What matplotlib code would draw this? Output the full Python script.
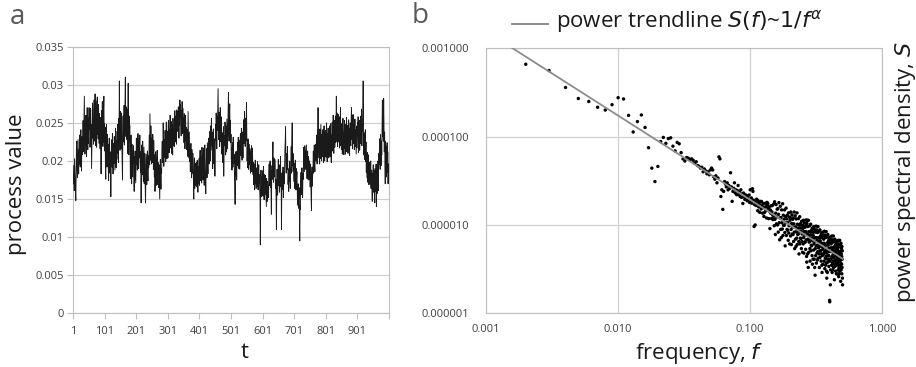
import numpy as np
import matplotlib
matplotlib.use('Agg')
import matplotlib.pyplot as plt
from matplotlib.lines import Line2D

plt.rcParams['font.family'] = ['Open Sans', 'DejaVu Sans']

# ---------------- panel a: process values, t = 1..1000 ----------------
process_value = [
    0.0194, 0.0170, 0.0182, 0.0161, 0.0203, 0.0187, 0.0175, 0.0159, 0.0148, 0.0186,
    0.0219, 0.0226, 0.0190, 0.0178, 0.0204, 0.0228, 0.0201, 0.0183, 0.0215, 0.0196,
    0.0234, 0.0210, 0.0192, 0.0226, 0.0241, 0.0203, 0.0187, 0.0219, 0.0232, 0.0208,
    0.0225, 0.0253, 0.0212, 0.0239, 0.0264, 0.0285, 0.0230, 0.0209, 0.0248, 0.0226,
    0.0260, 0.0221, 0.0206, 0.0244, 0.0270, 0.0232, 0.0215, 0.0257, 0.0223, 0.0249,
    0.0270, 0.0242, 0.0263, 0.0218, 0.0236, 0.0269, 0.0224, 0.0248, 0.0190, 0.0217,
    0.0245, 0.0276, 0.0230, 0.0258, 0.0222, 0.0264, 0.0280, 0.0241, 0.0226, 0.0288,
    0.0253, 0.0220, 0.0279, 0.0246, 0.0218, 0.0261, 0.0284, 0.0235, 0.0266, 0.0229,
    0.0274, 0.0250, 0.0223, 0.0262, 0.0238, 0.0216, 0.0257, 0.0230, 0.0183, 0.0224,
    0.0266, 0.0231, 0.0278, 0.0240, 0.0219, 0.0255, 0.0270, 0.0285, 0.0224, 0.0249,
    0.0213, 0.0244, 0.0189, 0.0176, 0.0227, 0.0248, 0.0206, 0.0192, 0.0235, 0.0210,
    0.0222, 0.0190, 0.0174, 0.0216, 0.0230, 0.0201, 0.0184, 0.0212, 0.0195, 0.0153,
    0.0186, 0.0228, 0.0210, 0.0192, 0.0236, 0.0204, 0.0183, 0.0223, 0.0209, 0.0197,
    0.0232, 0.0206, 0.0188, 0.0220, 0.0243, 0.0209, 0.0191, 0.0227, 0.0202, 0.0239,
    0.0210, 0.0248, 0.0223, 0.0198, 0.0256, 0.0234, 0.0305, 0.0242, 0.0214, 0.0265,
    0.0252, 0.0216, 0.0239, 0.0263, 0.0220, 0.0197, 0.0175, 0.0233, 0.0259, 0.0225,
    0.0240, 0.0273, 0.0221, 0.0255, 0.0280, 0.0310, 0.0258, 0.0232, 0.0271, 0.0244,
    0.0228, 0.0268, 0.0210, 0.0253, 0.0302, 0.0241, 0.0208, 0.0259, 0.0226, 0.0247,
    0.0219, 0.0177, 0.0208, 0.0234, 0.0186, 0.0170, 0.0222, 0.0200, 0.0179, 0.0213,
    0.0197, 0.0220, 0.0181, 0.0160, 0.0206, 0.0175, 0.0213, 0.0192, 0.0171, 0.0202,
    0.0230, 0.0195, 0.0224, 0.0188, 0.0218, 0.0236, 0.0201, 0.0190, 0.0229, 0.0204,
    0.0217, 0.0234, 0.0198, 0.0185, 0.0212, 0.0145, 0.0193, 0.0221, 0.0200, 0.0182,
    0.0226, 0.0201, 0.0173, 0.0194, 0.0218, 0.0170, 0.0188, 0.0210, 0.0166, 0.0145,
    0.0178, 0.0209, 0.0190, 0.0169, 0.0202, 0.0213, 0.0180, 0.0174, 0.0207, 0.0191,
    0.0210, 0.0234, 0.0195, 0.0262, 0.0225, 0.0201, 0.0246, 0.0218, 0.0196, 0.0230,
    0.0224, 0.0198, 0.0235, 0.0210, 0.0189, 0.0227, 0.0203, 0.0179, 0.0208, 0.0160,
    0.0181, 0.0212, 0.0194, 0.0168, 0.0179, 0.0205, 0.0214, 0.0182, 0.0169, 0.0198,
    0.0186, 0.0165, 0.0195, 0.0172, 0.0150, 0.0180, 0.0202, 0.0178, 0.0163, 0.0190,
    0.0184, 0.0213, 0.0226, 0.0198, 0.0207, 0.0250, 0.0217, 0.0193, 0.0228, 0.0205,
    0.0212, 0.0240, 0.0221, 0.0199, 0.0236, 0.0251, 0.0214, 0.0203, 0.0239, 0.0222,
    0.0204, 0.0246, 0.0253, 0.0220, 0.0211, 0.0241, 0.0230, 0.0260, 0.0217, 0.0239,
    0.0252, 0.0226, 0.0210, 0.0247, 0.0232, 0.0208, 0.0256, 0.0240, 0.0220, 0.0237,
    0.0219, 0.0254, 0.0266, 0.0231, 0.0225, 0.0259, 0.0243, 0.0222, 0.0267, 0.0248,
    0.0239, 0.0265, 0.0242, 0.0271, 0.0253, 0.0230, 0.0264, 0.0247, 0.0280, 0.0258,
    0.0274, 0.0245, 0.0233, 0.0266, 0.0249, 0.0278, 0.0236, 0.0255, 0.0269, 0.0238,
    0.0257, 0.0224, 0.0262, 0.0248, 0.0216, 0.0239, 0.0260, 0.0227, 0.0244, 0.0215,
    0.0242, 0.0218, 0.0229, 0.0206, 0.0265, 0.0234, 0.0204, 0.0220, 0.0238, 0.0199,
    0.0216, 0.0186, 0.0209, 0.0223, 0.0190, 0.0178, 0.0215, 0.0202, 0.0184, 0.0210,
    0.0185, 0.0173, 0.0150, 0.0189, 0.0204, 0.0164, 0.0178, 0.0197, 0.0168, 0.0182,
    0.0198, 0.0166, 0.0174, 0.0201, 0.0180, 0.0159, 0.0193, 0.0170, 0.0203, 0.0184,
    0.0168, 0.0199, 0.0214, 0.0182, 0.0174, 0.0206, 0.0190, 0.0171, 0.0218, 0.0196,
    0.0208, 0.0175, 0.0189, 0.0217, 0.0193, 0.0168, 0.0204, 0.0221, 0.0186, 0.0179,
    0.0157, 0.0189, 0.0216, 0.0200, 0.0178, 0.0224, 0.0206, 0.0183, 0.0219, 0.0230,
    0.0213, 0.0196, 0.0239, 0.0222, 0.0200, 0.0246, 0.0214, 0.0233, 0.0256, 0.0220,
    0.0238, 0.0202, 0.0190, 0.0227, 0.0242, 0.0208, 0.0196, 0.0229, 0.0212, 0.0180,
    0.0214, 0.0248, 0.0227, 0.0263, 0.0235, 0.0216, 0.0259, 0.0240, 0.0268, 0.0295,
    0.0255, 0.0228, 0.0264, 0.0236, 0.0219, 0.0251, 0.0270, 0.0232, 0.0225, 0.0258,
    0.0243, 0.0209, 0.0237, 0.0214, 0.0198, 0.0229, 0.0245, 0.0180, 0.0216, 0.0233,
    0.0220, 0.0251, 0.0234, 0.0208, 0.0246, 0.0223, 0.0212, 0.0255, 0.0238, 0.0216,
    0.0247, 0.0269, 0.0290, 0.0241, 0.0226, 0.0262, 0.0275, 0.0237, 0.0253, 0.0224,
    0.0235, 0.0202, 0.0217, 0.0188, 0.0224, 0.0206, 0.0192, 0.0231, 0.0210, 0.0197,
    0.0209, 0.0181, 0.0172, 0.0143, 0.0195, 0.0212, 0.0180, 0.0206, 0.0175, 0.0213,
    0.0200, 0.0224, 0.0194, 0.0231, 0.0213, 0.0190, 0.0227, 0.0205, 0.0189, 0.0229,
    0.0236, 0.0207, 0.0220, 0.0243, 0.0214, 0.0201, 0.0238, 0.0226, 0.0204, 0.0240,
    0.0254, 0.0223, 0.0249, 0.0265, 0.0230, 0.0219, 0.0256, 0.0240, 0.0227, 0.0277,
    0.0235, 0.0200, 0.0218, 0.0191, 0.0229, 0.0204, 0.0189, 0.0222, 0.0208, 0.0195,
    0.0216, 0.0190, 0.0184, 0.0212, 0.0201, 0.0220, 0.0186, 0.0198, 0.0217, 0.0193,
    0.0182, 0.0198, 0.0169, 0.0176, 0.0196, 0.0162, 0.0185, 0.0201, 0.0170, 0.0187,
    0.0164, 0.0191, 0.0180, 0.0167, 0.0199, 0.0175, 0.0162, 0.0186, 0.0195, 0.0171,
    0.0182, 0.0160, 0.0149, 0.0090, 0.0157, 0.0188, 0.0165, 0.0153, 0.0179, 0.0162,
    0.0187, 0.0154, 0.0169, 0.0193, 0.0160, 0.0149, 0.0182, 0.0170, 0.0156, 0.0181,
    0.0166, 0.0150, 0.0140, 0.0177, 0.0161, 0.0147, 0.0173, 0.0155, 0.0168, 0.0152,
    0.0184, 0.0196, 0.0168, 0.0179, 0.0200, 0.0165, 0.0187, 0.0158, 0.0130, 0.0176,
    0.0194, 0.0176, 0.0208, 0.0225, 0.0189, 0.0172, 0.0204, 0.0190, 0.0179, 0.0202,
    0.0188, 0.0164, 0.0176, 0.0149, 0.0110, 0.0158, 0.0189, 0.0169, 0.0155, 0.0181,
    0.0202, 0.0168, 0.0190, 0.0173, 0.0159, 0.0195, 0.0180, 0.0206, 0.0166, 0.0184,
    0.0110, 0.0159, 0.0184, 0.0163, 0.0176, 0.0192, 0.0152, 0.0168, 0.0186, 0.0170,
    0.0193, 0.0215, 0.0226, 0.0245, 0.0198, 0.0184, 0.0210, 0.0202, 0.0189, 0.0219,
    0.0196, 0.0169, 0.0182, 0.0160, 0.0190, 0.0173, 0.0200, 0.0178, 0.0164, 0.0186,
    0.0198, 0.0219, 0.0184, 0.0226, 0.0250, 0.0194, 0.0210, 0.0186, 0.0209, 0.0193,
    0.0173, 0.0197, 0.0164, 0.0181, 0.0201, 0.0176, 0.0162, 0.0190, 0.0178, 0.0186,
    0.0166, 0.0142, 0.0159, 0.0170, 0.0138, 0.0154, 0.0165, 0.0123, 0.0095, 0.0141,
    0.0136, 0.0169, 0.0185, 0.0156, 0.0174, 0.0191, 0.0160, 0.0152, 0.0183, 0.0176,
    0.0192, 0.0218, 0.0203, 0.0186, 0.0220, 0.0195, 0.0213, 0.0189, 0.0207, 0.0221,
    0.0202, 0.0177, 0.0199, 0.0213, 0.0182, 0.0175, 0.0206, 0.0190, 0.0176, 0.0200,
    0.0189, 0.0166, 0.0196, 0.0171, 0.0154, 0.0135, 0.0178, 0.0192, 0.0167, 0.0183,
    0.0190, 0.0213, 0.0184, 0.0206, 0.0221, 0.0193, 0.0186, 0.0215, 0.0200, 0.0222,
    0.0201, 0.0234, 0.0217, 0.0196, 0.0241, 0.0225, 0.0270, 0.0210, 0.0236, 0.0204,
    0.0229, 0.0196, 0.0242, 0.0215, 0.0203, 0.0248, 0.0224, 0.0200, 0.0235, 0.0212,
    0.0206, 0.0241, 0.0219, 0.0198, 0.0233, 0.0246, 0.0211, 0.0200, 0.0237, 0.0222,
    0.0240, 0.0205, 0.0228, 0.0250, 0.0214, 0.0199, 0.0236, 0.0217, 0.0243, 0.0220,
    0.0204, 0.0238, 0.0221, 0.0246, 0.0206, 0.0219, 0.0249, 0.0210, 0.0198, 0.0234,
    0.0227, 0.0251, 0.0213, 0.0239, 0.0260, 0.0222, 0.0210, 0.0246, 0.0253, 0.0218,
    0.0232, 0.0259, 0.0224, 0.0248, 0.0285, 0.0226, 0.0263, 0.0241, 0.0219, 0.0254,
    0.0261, 0.0225, 0.0238, 0.0258, 0.0217, 0.0244, 0.0231, 0.0270, 0.0220, 0.0246,
    0.0215, 0.0249, 0.0230, 0.0209, 0.0243, 0.0256, 0.0221, 0.0237, 0.0208, 0.0241,
    0.0253, 0.0217, 0.0234, 0.0209, 0.0248, 0.0226, 0.0257, 0.0212, 0.0238, 0.0221,
    0.0247, 0.0210, 0.0229, 0.0254, 0.0218, 0.0242, 0.0207, 0.0235, 0.0250, 0.0224,
    0.0220, 0.0253, 0.0270, 0.0228, 0.0259, 0.0216, 0.0244, 0.0261, 0.0231, 0.0223,
    0.0249, 0.0215, 0.0238, 0.0255, 0.0219, 0.0241, 0.0225, 0.0209, 0.0246, 0.0230,
    0.0217, 0.0250, 0.0232, 0.0258, 0.0211, 0.0235, 0.0224, 0.0253, 0.0214, 0.0240,
    0.0254, 0.0223, 0.0259, 0.0236, 0.0268, 0.0220, 0.0245, 0.0239, 0.0264, 0.0305,
    0.0245, 0.0208, 0.0237, 0.0219, 0.0202, 0.0232, 0.0241, 0.0199, 0.0225, 0.0185,
    0.0209, 0.0178, 0.0195, 0.0211, 0.0172, 0.0186, 0.0208, 0.0169, 0.0197, 0.0183,
    0.0198, 0.0169, 0.0185, 0.0200, 0.0164, 0.0179, 0.0188, 0.0159, 0.0147, 0.0184,
    0.0171, 0.0195, 0.0159, 0.0188, 0.0166, 0.0154, 0.0145, 0.0190, 0.0160, 0.0182,
    0.0196, 0.0140, 0.0170, 0.0157, 0.0192, 0.0168, 0.0200, 0.0161, 0.0194, 0.0210,
    0.0196, 0.0229, 0.0202, 0.0189, 0.0235, 0.0211, 0.0194, 0.0226, 0.0208, 0.0240,
    0.0280, 0.0232, 0.0246, 0.0226, 0.0282, 0.0245, 0.0212, 0.0238, 0.0200, 0.0170,
    0.0226, 0.0187, 0.0219, 0.0179, 0.0209, 0.0224, 0.0185, 0.0212, 0.0170, 0.0196,
]
t = np.arange(1, len(process_value) + 1)
t_tick_labels = ['1', '101', '201', '301', '401', '501', '601', '701', '801', '901']
value_ticks = [0, 0.005, 0.01, 0.015, 0.02, 0.025, 0.03, 0.035]
value_tick_labels = ['0', '0.005', '0.01', '0.015', '0.02', '0.025', '0.03', '0.035']

# ---------------- panel b: power spectral density ----------------
freq = np.arange(2, 501) / 1000.0   # frequency bins 0.002 ... 0.500
psd = [
    660e-6, 560e-6, 360e-6, 270e-6, 250e-6, 215e-6, 200e-6, 230e-6, 276e-6,
    267e-6, 174e-6, 113e-6, 148e-6, 176e-6, 127e-6, 75e-6, 44e-6, 31e-6, 46e-6,
    88e-6, 98e-6, 84e-6, 95e-6, 97e-6, 78e-6, 69e-6, 86e-6, 83e-6, 66e-6,
    56e-6, 53e-6, 58e-6, 57e-6, 55e-6, 56e-6, 54e-6, 50e-6, 52e-6, 47e-6,
    46e-6, 44e-6, 45e-6, 40e-6, 43e-6, 41e-6, 38e-6, 40e-6, 37e-6, 42e-6,
    44e-6, 42e-6, 35e-6, 33e-6, 36e-6, 30e-6, 34e-6, 59e-6, 56e-6, 21e-6,
    25e-6, 15e-6, 24e-6, 31e-6, 29e-6, 27e-6, 30e-6, 25e-6, 28e-6, 26e-6,
    39e-6, 27e-6, 18.5e-6, 24e-6, 26e-6, 30e-6, 23e-6, 25e-6, 22e-6, 24.5e-6,
    28e-6, 22e-6, 23.5e-6, 21e-6, 25e-6, 20.5e-6, 22.5e-6, 17.5e-6, 23e-6, 21e-6,
    19.5e-6, 22e-6, 20e-6, 21.5e-6, 18.8e-6, 20.5e-6, 19.2e-6, 21.8e-6, 18e-6, 25e-6,
    18.5e-6, 20.2e-6, 17.6e-6, 25.7e-6, 24e-6, 19.1e-6, 9.6e-6, 17.0e-6, 10.0e-6, 18.3e-6,
    16.6e-6, 19.6e-6, 17.3e-6, 14.5e-6, 18.8e-6, 16.0e-6, 17.8e-6, 13.9e-6, 16.8e-6, 18.5e-6,
    15.2e-6, 18.4e-6, 16.3e-6, 13.6e-6, 17.4e-6, 15.7e-6, 12.5e-6, 13.8e-6, 15.9e-6, 17.6e-6,
    14.4e-6, 16.1e-6, 12.0e-6, 18.0e-6, 16.8e-6, 17.5e-6, 15.4e-6, 11.8e-6, 15.9e-6, 14.2e-6,
    9.1e-6, 14.8e-6, 13.6e-6, 16.5e-6, 11.8e-6, 14.1e-6, 16.6e-6, 13.0e-6, 11.5e-6, 12.4e-6,
    17.3e-6, 9.8e-6, 18.3e-6, 11.6e-6, 7.8e-6, 13.6e-6, 17.0e-6, 10.3e-6, 12.3e-6, 15.1e-6,
    10.0e-6, 15.3e-6, 8.3e-6, 13.2e-6, 17.9e-6, 10.6e-6, 6.8e-6, 12.0e-6, 16.3e-6, 8.9e-6,
    12.1e-6, 7.2e-6, 14.8e-6, 10.6e-6, 9.0e-6, 17.4e-6, 7.6e-6, 12.9e-6, 9.9e-6, 11.6e-6,
    9.9e-6, 14.8e-6, 8.2e-6, 5.8e-6, 12.5e-6, 10.6e-6, 15.5e-6, 7.6e-6, 11.7e-6, 8.9e-6,
    12.9e-6, 8.7e-6, 10.6e-6, 6.7e-6, 13.7e-6, 8.1e-6, 9.8e-6, 12.3e-6, 6.1e-6, 11.3e-6,
    12.1e-6, 7.5e-6, 14.0e-6, 8.9e-6, 6.0e-6, 10.4e-6, 13.0e-6, 7.9e-6, 9.5e-6, 11.6e-6,
    7.8e-6, 12.0e-6, 6.5e-6, 10.3e-6, 14.0e-6, 8.3e-6, 5.4e-6, 9.4e-6, 12.7e-6, 6.9e-6,
    9.5e-6, 5.7e-6, 11.7e-6, 8.4e-6, 7.1e-6, 13.7e-6, 6.0e-6, 10.2e-6, 7.8e-6, 9.2e-6,
    7.9e-6, 11.8e-6, 6.5e-6, 4.7e-6, 10.0e-6, 8.5e-6, 12.4e-6, 6.1e-6, 9.3e-6, 7.1e-6,
    10.4e-6, 7.0e-6, 8.5e-6, 5.4e-6, 11.0e-6, 6.5e-6, 7.9e-6, 9.9e-6, 4.9e-6, 9.1e-6,
    9.8e-6, 6.1e-6, 11.3e-6, 7.2e-6, 4.8e-6, 8.4e-6, 10.6e-6, 6.4e-6, 7.7e-6, 9.4e-6,
    6.4e-6, 9.8e-6, 5.3e-6, 8.4e-6, 11.4e-6, 6.8e-6, 4.4e-6, 3.8e-6, 10.4e-6, 11.3e-6,
    7.9e-6, 4.7e-6, 9.6e-6, 6.9e-6, 3.3e-6, 11.3e-6, 4.9e-6, 8.4e-6, 6.4e-6, 7.6e-6,
    6.5e-6, 9.8e-6, 5.4e-6, 3.9e-6, 8.3e-6, 7.0e-6, 10.2e-6, 5.1e-6, 7.7e-6, 5.9e-6,
    8.7e-6, 5.8e-6, 7.1e-6, 4.5e-6, 9.2e-6, 3.6e-6, 6.6e-6, 8.3e-6, 4.1e-6, 7.6e-6,
    8.3e-6, 5.2e-6, 9.6e-6, 6.1e-6, 4.1e-6, 7.1e-6, 8.9e-6, 3.3e-6, 6.5e-6, 2.7e-6,
    5.4e-6, 8.3e-6, 4.5e-6, 7.2e-6, 9.7e-6, 5.8e-6, 3.7e-6, 6.5e-6, 8.8e-6, 4.8e-6,
    6.7e-6, 4.0e-6, 8.2e-6, 5.9e-6, 5.0e-6, 9.6e-6, 4.2e-6, 7.2e-6, 5.5e-6, 6.5e-6,
    5.6e-6, 8.5e-6, 4.7e-6, 3.3e-6, 7.1e-6, 6.0e-6, 8.8e-6, 4.3e-6, 6.6e-6, 5.1e-6,
    7.5e-6, 5.1e-6, 6.2e-6, 3.9e-6, 8.0e-6, 4.7e-6, 5.7e-6, 7.2e-6, 3.5e-6, 2.9e-6,
    7.2e-6, 4.5e-6, 8.3e-6, 5.3e-6, 3.6e-6, 6.2e-6, 7.7e-6, 4.7e-6, 5.6e-6, 6.9e-6,
    4.7e-6, 7.3e-6, 3.9e-6, 6.2e-6, 8.5e-6, 5.0e-6, 3.2e-6, 5.7e-6, 7.7e-6, 4.2e-6,
    5.9e-6, 3.5e-6, 7.2e-6, 5.2e-6, 4.4e-6, 8.4e-6, 3.7e-6, 3.0e-6, 4.8e-6, 2.5e-6,
    4.9e-6, 7.4e-6, 4.1e-6, 2.9e-6, 6.3e-6, 5.3e-6, 7.8e-6, 3.8e-6, 5.9e-6, 4.5e-6,
    6.6e-6, 4.5e-6, 5.4e-6, 3.4e-6, 7.0e-6, 4.1e-6, 5.0e-6, 6.3e-6, 1.4e-6, 1.35e-6,
    6.3e-6, 3.9e-6, 7.3e-6, 2.1e-6, 3.1e-6, 5.5e-6, 6.8e-6, 4.1e-6, 5.0e-6, 6.1e-6,
    4.2e-6, 6.4e-6, 3.5e-6, 5.5e-6, 7.5e-6, 4.4e-6, 2.9e-6, 5.0e-6, 6.8e-6, 3.7e-6,
    5.2e-6, 3.1e-6, 6.4e-6, 4.6e-6, 3.9e-6, 7.5e-6, 3.3e-6, 5.6e-6, 4.3e-6, 5.0e-6,
    4.4e-6, 6.6e-6, 3.6e-6, 2.4e-6, 5.6e-6, 4.7e-6, 6.9e-6, 3.4e-6, 5.2e-6, 4.0e-6,
    5.9e-6, 4.0e-6, 4.9e-6, 3.0e-6, 6.3e-6, 3.7e-6, 4.5e-6, 5.6e-6, 2.8e-6, 5.2e-6,
    5.7e-6, 3.5e-6, 6.6e-6, 4.2e-6, 2.8e-6, 4.9e-6, 6.1e-6, 3.7e-6, 4.4e-6, 5.4e-6,
    3.8e-6, 5.8e-6, 3.1e-6, 5.0e-6, 6.7e-6, 4.0e-6, 2.6e-6, 4.5e-6, 6.1e-6, 3.3e-6,
    4.7e-6, 2.8e-6, 5.7e-6, 4.1e-6, 3.5e-6, 6.7e-6, 3.0e-6, 5.0e-6, 3.8e-6, 4.5e-6,
    4.0e-6, 6.0e-6, 3.3e-6, 2.3e-6, 5.0e-6, 4.3e-6, 6.2e-6, 3.1e-6, 4.7e-6, 3.6e-6,
    5.4e-6, 3.6e-6, 4.4e-6, 2.8e-6, 5.7e-6, 3.3e-6, 4.1e-6, 5.1e-6, 2.5e-6, 2.1e-6,
]
# power trendline S(f) = A / f^alpha
trend_A = 2.14e-6
trend_alpha = 0.954
trend_f = np.array([0.001, 0.5])

freq_ticks = [0.001, 0.01, 0.1, 1.0]
freq_tick_labels = ['0.001', '0.010', '0.100', '1.000']
psd_ticks = [1e-6, 1e-5, 1e-4, 1e-3]
psd_tick_labels = ['0.000001', '0.000010', '0.000100', '0.001000']

# ---------------- figure ----------------
W, H = 916, 367
fig = plt.figure(figsize=(W / 100, H / 100), dpi=100)
grid_c = '#d0d0d0'
spine_c = '#bfbfbf'
tick_c = '#404040'

ax1 = fig.add_axes([73.3 / W, 1 - 313.3 / H, (388.7 - 73.3) / W, (313.3 - 46.7) / H])
ax1.plot(t, process_value, color='#1a1a1a', lw=0.65, zorder=3)
ax1.set_xlim(1, 1001)
ax1.set_ylim(0, 0.035)
ax1.set_xticks(list(range(1, 1002, 100)))
ax1.set_xticklabels(t_tick_labels + [''])
ax1.set_yticks(value_ticks)
ax1.set_yticklabels(value_tick_labels)
ax1.grid(axis='y', color=grid_c, lw=0.9)
for s in ax1.spines.values():
    s.set_color(spine_c)
ax1.tick_params(axis='both', colors=spine_c, labelcolor=tick_c, labelsize=8, length=4, width=0.8)
ax1.tick_params(axis='x', pad=5)
ax1.tick_params(axis='y', pad=3)

ax2 = fig.add_axes([486 / W, 1 - 313.3 / H, (882.3 - 486) / W, (313.3 - 48.3) / H])
ax2.set_xscale('log')
ax2.set_yscale('log')
ax2.scatter(freq, psd, s=6, color='black', edgecolors='none', zorder=3)
ax2.plot(trend_f, trend_A / trend_f ** trend_alpha, color='#8c8c8c', lw=1.3, zorder=4)
ax2.set_xlim(0.001, 1.0)
ax2.set_ylim(1e-6, 1e-3)
ax2.set_xticks(freq_ticks)
ax2.set_xticklabels(freq_tick_labels)
ax2.set_yticks(psd_ticks)
ax2.set_yticklabels(psd_tick_labels)
ax2.minorticks_off()
ax2.grid(True, color=grid_c, lw=0.9)
for s in ax2.spines.values():
    s.set_color(spine_c)
ax2.tick_params(axis='both', colors=spine_c, labelcolor=tick_c, labelsize=8, length=0)
ax2.tick_params(axis='x', pad=8)
ax2.tick_params(axis='y', pad=12)

# labels
lab_c = '#1a1a1a'
fig.text(17 / W, 1 - 184 / H, 'process value', rotation=90, ha='center', va='center',
         fontsize=16, color=lab_c)
fig.text(245 / W, 1 - 352 / H, 't', ha='center', va='center', fontsize=16, color=lab_c)
fig.text(699 / W, 1 - 353 / H, 'frequency, $\\it{f}$', ha='center', va='center',
         fontsize=16, color=lab_c)
fig.text(905 / W, 1 - 172 / H, 'power spectral density, $\\it{S}$', rotation=90,
         ha='center', va='center', fontsize=16, color=lab_c)
fig.text(17 / W, 1 - 17 / H, 'a', ha='center', va='center', fontsize=20, color='#595959')
fig.text(420 / W, 1 - 16 / H, 'b', ha='center', va='center', fontsize=20, color='#595959')

# legend
fig.add_artist(Line2D([511.7 / W, 548.3 / W], [1 - 24 / H, 1 - 24 / H],
                      color='#8c8c8c', lw=1.4, transform=fig.transFigure))
fig.text(556 / W, 1 - 22 / H, 'power trendline $\\mathit{S(f)}$~$\\mathit{1/f^{\\alpha}}$',
         ha='left', va='center', fontsize=16, color=lab_c)

fig.savefig('out.png', dpi=100)
